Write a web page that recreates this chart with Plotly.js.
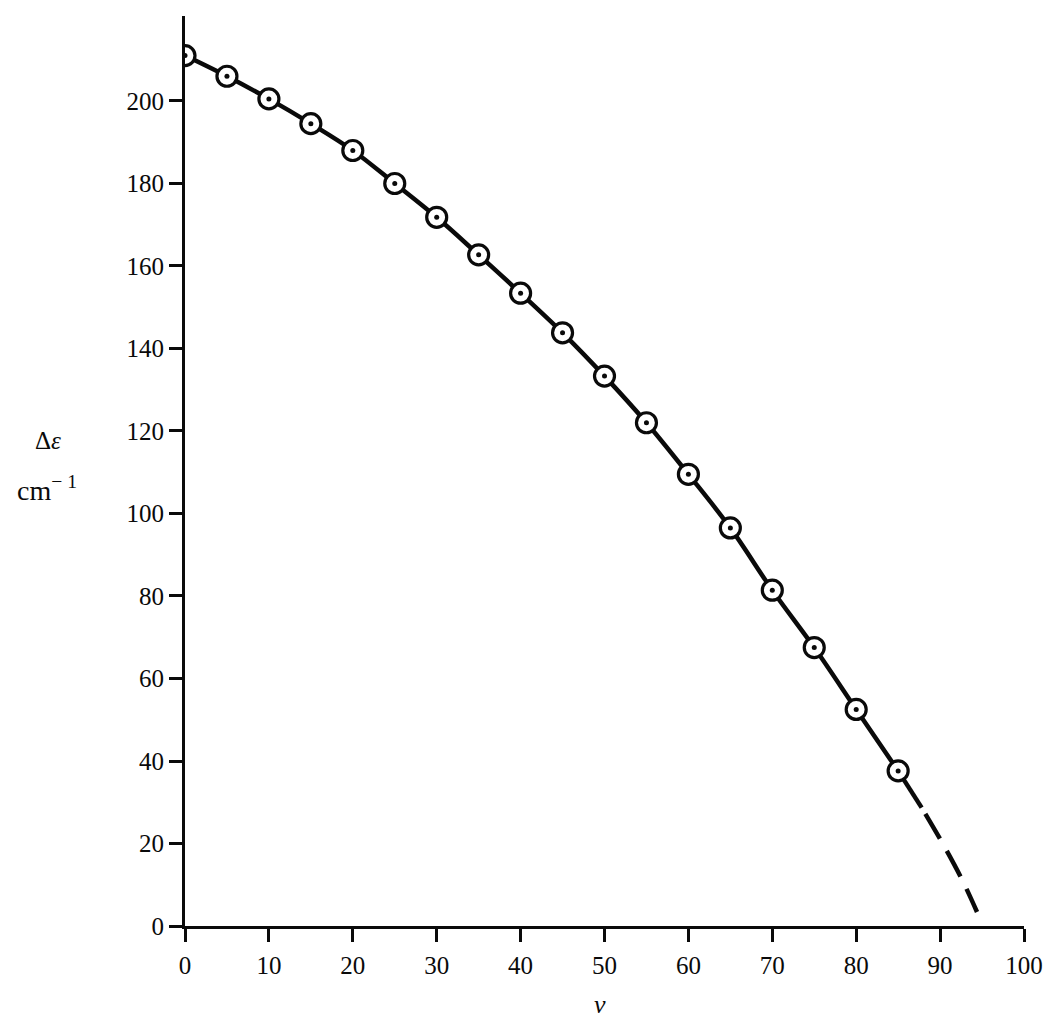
<!DOCTYPE html>
<html>
<head>
<meta charset="utf-8">
<script src="https://cdn.plot.ly/plotly-3.0.1.min.js"></script>
<style>
  html, body { margin: 0; padding: 0; background: #ffffff; }
  #chart { width: 1044px; height: 1023px; }
</style>
</head>
<body>
<div id="chart"></div>
<script>
// vibrational quantum number v (measured points)
var vValues = [0, 5, 10, 15, 20, 25, 30, 35, 40, 45, 50, 55, 60, 65, 70, 75, 80, 85];
// Δε in cm^-1
var deltaE = [211, 206, 200.5, 194.5, 188, 180, 171.8, 162.7, 153.4, 143.8, 133.3, 122, 109.5, 96.5, 81.4, 67.5, 52.5, 37.6];

// extrapolated tail of the curve (first segment solid, rest dashed)
var tailV = [85, 87.8, 90.5, 92.7, 94.4];
var tailE = [37.6, 28.7, 19.3, 10.9, 3.4];

// axis ticks
var xTicks = [0, 10, 20, 30, 40, 50, 60, 70, 80, 90, 100];
var yTicks = [0, 20, 40, 60, 80, 100, 120, 140, 160, 180, 200];

var ink = '#0a0a0a';

var traces = [
  { // fitted curve through the points
    x: vValues, y: deltaE, mode: 'lines', type: 'scatter',
    line: { color: ink, width: 4.5, shape: 'spline', smoothing: 1 },
    hoverinfo: 'skip', showlegend: false
  },
  { // short solid continuation after last point
    x: tailV.slice(0, 2), y: tailE.slice(0, 2), mode: 'lines', type: 'scatter',
    line: { color: ink, width: 4.5 },
    hoverinfo: 'skip', showlegend: false
  },
  { // dashed extrapolation to the dissociation limit
    x: tailV.slice(1), y: tailE.slice(1), mode: 'lines', type: 'scatter',
    line: { color: ink, width: 4.5, shape: 'spline', smoothing: 1, dash: '0px,7px,29px,7px' },
    hoverinfo: 'skip', showlegend: false
  },
  { // open circles
    x: vValues, y: deltaE, mode: 'markers', type: 'scatter',
    marker: { symbol: 'circle', size: 20, color: '#ffffff', line: { color: ink, width: 3.2 } },
    showlegend: false
  },
  { // centre dots
    x: vValues, y: deltaE, mode: 'markers', type: 'scatter',
    marker: { symbol: 'circle', size: 5, color: ink },
    hoverinfo: 'skip', showlegend: false
  }
];

var tickFont = { family: 'Liberation Serif, Times New Roman, serif', size: 25, color: ink };

var layout = {
  width: 1044, height: 1023,
  margin: { l: 185, r: 20, t: 16, b: 97 },
  paper_bgcolor: '#ffffff', plot_bgcolor: '#ffffff',
  showlegend: false,
  xaxis: {
    range: [0, 100], tickvals: xTicks, ticktext: xTicks.map(String),
    showline: true, linecolor: ink, linewidth: 3,
    ticks: 'outside', ticklen: 13, tickwidth: 3, tickcolor: ink,
    showgrid: false, zeroline: false, tickfont: tickFont,
    ticklabelstandoff: 2
  },
  yaxis: {
    range: [0, 220.6], tickvals: yTicks, ticktext: yTicks.map(String),
    showline: true, linecolor: ink, linewidth: 3,
    ticks: 'outside', ticklen: 13, tickwidth: 3, tickcolor: ink,
    showgrid: false, zeroline: false, tickfont: tickFont,
    ticklabelstandoff: 0
  },
  annotations: [
    { text: 'Δ<i>ε</i>', xref: 'paper', yref: 'paper', x: -0.163, y: 0.533,
      xanchor: 'center', yanchor: 'middle', showarrow: false,
      font: { family: 'Liberation Serif, serif', size: 25, color: ink } },
    { text: 'cm<sup>− 1</sup>', xref: 'paper', yref: 'paper', x: -0.165, y: 0.481,
      xanchor: 'center', yanchor: 'middle', showarrow: false,
      font: { family: 'Liberation Serif, serif', size: 28, color: ink } },
    { text: '<i>v</i>', xref: 'paper', yref: 'paper', x: 0.4946, y: -0.104,
      xanchor: 'center', yanchor: 'bottom', showarrow: false,
      font: { family: 'Liberation Serif, serif', size: 26, color: ink } }
  ]
};

Plotly.newPlot('chart', traces, layout, { displayModeBar: false, staticPlot: true });
</script>
</body>
</html>
